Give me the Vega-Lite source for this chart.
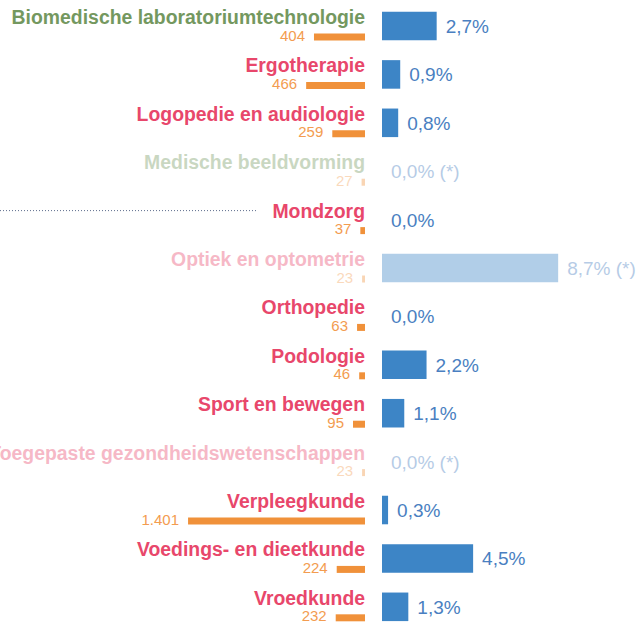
{
  "$schema": "https://vega.github.io/schema/vega-lite/v6.json",
  "width": 638,
  "height": 623,
  "autosize": {"type": "none"},
  "padding": 0,
  "background": "white",
  "config": {
    "view": {"stroke": null},
    "locale": {"number": {"decimal": ",", "thousands": ".", "grouping": [3], "currency": ["€ ", ""]}}
  },
  "datasets": {
    "opleidingen": [
      {"opleiding": "Biomedische laboratoriumtechnologie", "aantal": 404, "pct": 2.7, "pct_tekst": "2,7%", "signaal": "positief", "weinig_data": false},
      {"opleiding": "Ergotherapie", "aantal": 466, "pct": 0.9, "pct_tekst": "0,9%", "signaal": "negatief", "weinig_data": false},
      {"opleiding": "Logopedie en audiologie", "aantal": 259, "pct": 0.8, "pct_tekst": "0,8%", "signaal": "negatief", "weinig_data": false},
      {"opleiding": "Medische beeldvorming", "aantal": 27, "pct": 0.0, "pct_tekst": "0,0% (*)", "signaal": "positief", "weinig_data": true},
      {"opleiding": "Mondzorg", "aantal": 37, "pct": 0.0, "pct_tekst": "0,0%", "signaal": "negatief", "weinig_data": false},
      {"opleiding": "Optiek en optometrie", "aantal": 23, "pct": 8.7, "pct_tekst": "8,7% (*)", "signaal": "negatief", "weinig_data": true},
      {"opleiding": "Orthopedie", "aantal": 63, "pct": 0.0, "pct_tekst": "0,0%", "signaal": "negatief", "weinig_data": false},
      {"opleiding": "Podologie", "aantal": 46, "pct": 2.2, "pct_tekst": "2,2%", "signaal": "negatief", "weinig_data": false},
      {"opleiding": "Sport en bewegen", "aantal": 95, "pct": 1.1, "pct_tekst": "1,1%", "signaal": "negatief", "weinig_data": false},
      {"opleiding": "Toegepaste gezondheidswetenschappen", "aantal": 23, "pct": 0.0, "pct_tekst": "0,0% (*)", "signaal": "negatief", "weinig_data": true},
      {"opleiding": "Verpleegkunde", "aantal": 1401, "pct": 0.3, "pct_tekst": "0,3%", "signaal": "negatief", "weinig_data": false},
      {"opleiding": "Voedings- en dieetkunde", "aantal": 224, "pct": 4.5, "pct_tekst": "4,5%", "signaal": "negatief", "weinig_data": false},
      {"opleiding": "Vroedkunde", "aantal": 232, "pct": 1.3, "pct_tekst": "1,3%", "signaal": "negatief", "weinig_data": false}
    ],
    "lijn": [
      {"opleiding": "Mondzorg", "van": 2890, "tot": 850}
    ]
  },
  "encoding": {
    "y": {
      "field": "opleiding",
      "type": "nominal",
      "sort": null,
      "axis": null,
      "scale": {
        "domain": ["Biomedische laboratoriumtechnologie", "Ergotherapie", "Logopedie en audiologie", "Medische beeldvorming", "Mondzorg", "Optiek en optometrie", "Orthopedie", "Podologie", "Sport en bewegen", "Toegepaste gezondheidswetenschappen", "Verpleegkunde", "Voedings- en dieetkunde", "Vroedkunde"],
        "paddingInner": 0.41,
        "paddingOuter": 0.141,
        "align": 0.86,
        "round": false
      }
    }
  },
  "layer": [
    {
      "data": {"name": "opleidingen"},
      "layer": [
        {
          "mark": {"type": "bar", "height": 7, "yOffset": 11, "color": "#f0913a"},
          "encoding": {
            "x": {"field": "aantal", "type": "quantitative", "axis": null, "scale": {"domain": [-2161.5, 2890], "reverse": true, "zero": false, "nice": false}},
            "opacity": {"condition": {"test": "datum.weinig_data", "value": 0.38}, "value": 1}
          }
        },
        {
          "mark": {"type": "text", "align": "right", "baseline": "alphabetic", "dx": -9, "dy": 14.5, "font": "Liberation Sans", "fontSize": 15, "color": "#f39c50"},
          "encoding": {
            "x": {"field": "aantal", "type": "quantitative"},
            "text": {"field": "aantal", "type": "quantitative", "format": ",d"},
            "opacity": {"condition": {"test": "datum.weinig_data", "value": 0.38}, "value": 1}
          }
        },
        {
          "mark": {"type": "text", "align": "right", "baseline": "alphabetic", "dx": 0, "dy": -2, "font": "Liberation Sans", "fontWeight": "bold", "fontSize": 19.4},
          "encoding": {
            "x": {"datum": 0, "type": "quantitative"},
            "text": {"field": "opleiding", "type": "nominal"},
            "color": {"field": "signaal", "type": "nominal", "legend": null, "scale": {"domain": ["positief", "negatief"], "range": ["#74985f", "#e8476b"]}},
            "opacity": {"condition": {"test": "datum.weinig_data", "value": 0.38}, "value": 1}
          }
        },
        {
          "data": {"name": "lijn"},
          "mark": {"type": "rule", "color": "#5b6b8c", "strokeWidth": 1, "strokeDash": [1, 2], "yOffset": -9},
          "encoding": {
            "x": {"field": "van", "type": "quantitative"},
            "x2": {"field": "tot"}
          }
        }
      ]
    },
    {
      "data": {"name": "opleidingen"},
      "layer": [
        {
          "mark": {"type": "bar", "color": "#3d85c6"},
          "encoding": {
            "x": {"field": "pct", "type": "quantitative", "axis": null, "scale": {"domain": [-18.864, 12.642], "zero": false, "nice": false}},
            "opacity": {"condition": {"test": "datum.weinig_data", "value": 0.4}, "value": 1}
          }
        },
        {
          "mark": {"type": "text", "align": "left", "baseline": "alphabetic", "dx": 9, "dy": 7, "font": "Liberation Sans", "fontSize": 19, "color": "#4a7fc1"},
          "encoding": {
            "x": {"field": "pct", "type": "quantitative"},
            "text": {"field": "pct_tekst", "type": "nominal"},
            "opacity": {"condition": {"test": "datum.weinig_data", "value": 0.4}, "value": 1}
          }
        }
      ]
    }
  ],
  "resolve": {"scale": {"x": "independent", "color": "independent", "opacity": "independent"}}
}
